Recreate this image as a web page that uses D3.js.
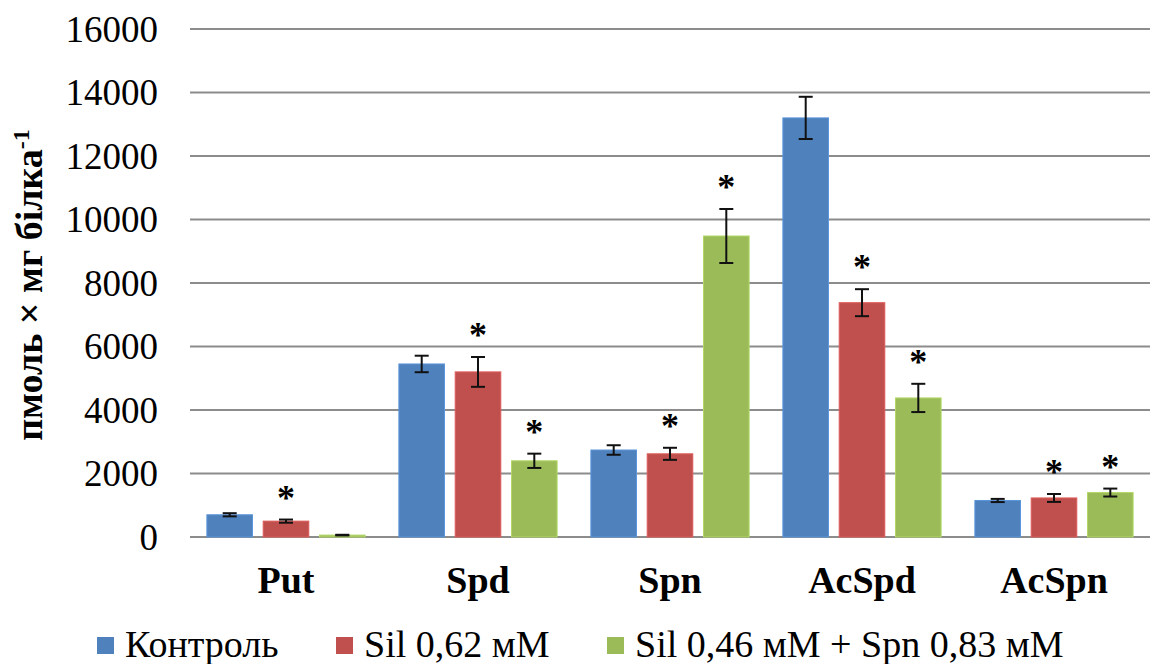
<!DOCTYPE html>
<html>
<head>
<meta charset="utf-8">
<script src="https://cdn.jsdelivr.net/npm/d3@7"></script>
<style>
  svg text, svg tspan { font-family: 'Liberation Serif', 'Times New Roman', Tinos !important; }
</style>
</head>
<body style="margin:0">
<svg id="chart" width="1156" height="664" style="display:block;background:#fff"></svg>
<script>
// Polyamine content by compound and treatment
const categories = ["Put", "Spd", "Spn", "AcSpd", "AcSpn"];
const seriesNames = ["Контроль", "Sil 0,62 мМ", "Sil 0,46 мМ + Spn 0,83 мМ"];
const seriesColors = ["#4F81BD", "#C0504D", "#9BBB59"];

const controlValues = [700, 5450, 2740, 13200, 1150];
const silValues = [500, 5200, 2620, 7380, 1230];
const silSpnValues = [60, 2400, 9480, 4380, 1400];

const controlErrors = [50, 260, 150, 665, 50];
const silErrors = [50, 470, 190, 425, 125];
const silSpnErrors = [10, 225, 850, 445, 125];

// significance marks (*) per series
const controlSig = [false, false, false, false, false];
const silSig = [true, true, true, true, true];
const silSpnSig = [false, true, true, true, true];

const yTicks = [0, 2000, 4000, 6000, 8000, 10000, 12000, 14000, 16000];

const values = [controlValues, silValues, silSpnValues];
const errors = [controlErrors, silErrors, silSpnErrors];
const sigs = [controlSig, silSig, silSpnSig];

const rows = [];
categories.forEach((c, ci) => {
  seriesNames.forEach((s, si) => {
    rows.push({ cat: c, series: s, si, value: values[si][ci], err: errors[si][ci], sig: sigs[si][ci] });
  });
});

const svg = d3.select("#chart");
const FONT = "'Liberation Serif', 'Times New Roman', Tinos";

const y = d3.scaleLinear().domain([0, 16000]).range([537, 29]);
const x0 = d3.scaleBand().domain(categories).range([190, 1150]).paddingInner(0).paddingOuter(0);
const x1 = d3.scaleBand().domain(seriesNames).range([0, x0.bandwidth()]).paddingInner(0.19).paddingOuter(0.3);
const color = d3.scaleOrdinal().domain(seriesNames).range(seriesColors);

// gridlines
svg.append("g")
  .selectAll("line")
  .data(yTicks)
  .join("line")
  .attr("x1", 190).attr("x2", 1150)
  .attr("y1", d => y(d)).attr("y2", d => y(d))
  .attr("stroke", "#8c8c8c")
  .attr("stroke-width", 2);

// y-axis tick labels
svg.append("g")
  .selectAll("text")
  .data(yTicks)
  .join("text")
  .attr("x", 158)
  .attr("y", d => y(d))
  .attr("dy", "0.34em")
  .attr("text-anchor", "end")
  .style("font-family", FONT, "important")
  .attr("font-size", 37)
  .attr("fill", "#000")
  .text(d => d3.format("d")(d));

// y-axis title
const title = svg.append("text")
  .attr("transform", "translate(42,285) rotate(-90)")
  .attr("text-anchor", "middle")
  .style("font-family", FONT, "important")
  .attr("font-weight", "bold")
  .attr("font-size", 38)
  .attr("fill", "#000");
title.append("tspan").text("пмоль × мг білка");
title.append("tspan").attr("dy", "-0.55em").attr("font-size", 24).text("-1");

// bars
svg.append("g")
  .selectAll("rect")
  .data(rows)
  .join("rect")
  .attr("x", d => x0(d.cat) + x1(d.series))
  .attr("width", x1.bandwidth())
  .attr("y", d => y(d.value))
  .attr("height", d => y(0) - y(d.value))
  .attr("fill", d => color(d.series))
  .attr("stroke", d => d3.color(color(d.series)).brighter(0.4))
  .attr("stroke-width", 1);

// error bars
const capHalf = 7;
const errG = svg.append("g").attr("stroke", "#111").attr("stroke-width", 2);
rows.forEach(d => {
  const cx = x0(d.cat) + x1(d.series) + x1.bandwidth() / 2;
  const top = y(d.value + d.err);
  const bot = y(Math.max(0, d.value - d.err));
  errG.append("line").attr("x1", cx).attr("x2", cx).attr("y1", top).attr("y2", bot);
  errG.append("line").attr("x1", cx - capHalf).attr("x2", cx + capHalf).attr("y1", top).attr("y2", top);
  errG.append("line").attr("x1", cx - capHalf).attr("x2", cx + capHalf).attr("y1", bot).attr("y2", bot);
});

// significance asterisks
svg.append("g")
  .selectAll("text")
  .data(rows.filter(d => d.sig))
  .join("text")
  .attr("x", d => x0(d.cat) + x1(d.series) + x1.bandwidth() / 2)
  .attr("y", d => y(d.value + d.err) - 10)
  .attr("text-anchor", "middle")
  .style("font-family", FONT, "important")
  .attr("font-weight", "bold")
  .attr("font-size", 36)
  .attr("fill", "#000")
  .text("*");

// category labels
svg.append("g")
  .selectAll("text")
  .data(categories)
  .join("text")
  .attr("x", d => x0(d) + x0.bandwidth() / 2)
  .attr("y", 593)
  .attr("text-anchor", "middle")
  .style("font-family", FONT, "important")
  .attr("font-weight", "bold")
  .attr("font-size", 38)
  .attr("fill", "#000")
  .text(d => d);

// legend
const legendX = [97, 336, 607];
const legend = svg.append("g");
seriesNames.forEach((s, i) => {
  legend.append("rect")
    .attr("x", legendX[i]).attr("y", 637)
    .attr("width", 17).attr("height", 17)
    .attr("fill", color(s));
  legend.append("text")
    .attr("x", legendX[i] + 28)
    .attr("y", 657)
    .style("font-family", FONT, "important")
    .attr("font-size", 38)
    .attr("fill", "#000")
    .text(s);
});
</script>
</body>
</html>
